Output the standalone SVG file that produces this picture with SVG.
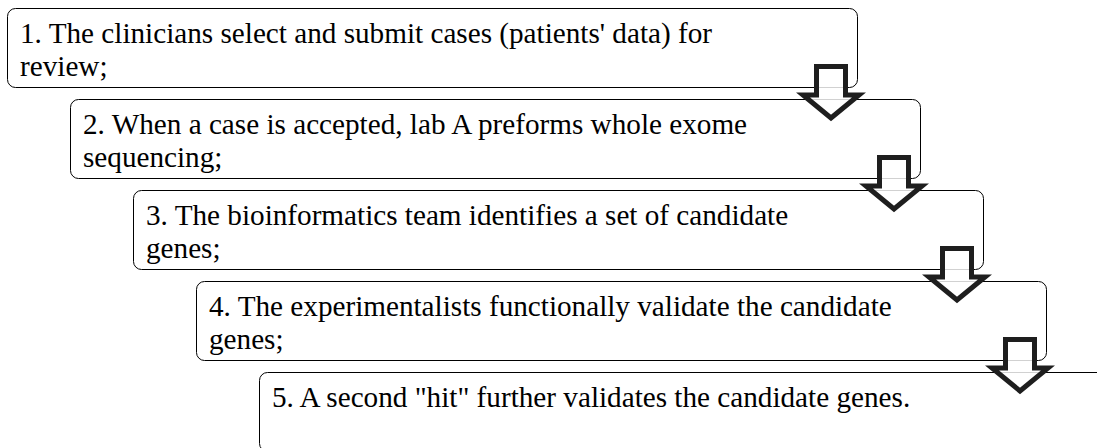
<svg xmlns="http://www.w3.org/2000/svg" width="1097" height="448" viewBox="0 0 1097 448">
  <style>
    .box { fill: #ffffff; stroke: #000000; stroke-width: 1; }
    .label { font-family: 'Liberation Serif', 'Times New Roman', serif; font-size: 29.2px; fill: #000000; }
    .step { fill: #ffffff; fill-opacity: 0.82; stroke: #1e1e1e; stroke-width: 5; stroke-linejoin: miter; }
  </style>
  <defs>
    <!-- block arrow pointing down, origin at the shaft's top centre -->
    <path id="downArrow" class="step" d="M-14.5,0 H14.5 V28.5 H28 L0,51.5 L-28,28.5 H-14.5 Z"/>
  </defs>
  <rect width="1097" height="448" fill="#ffffff"/>

  <g id="step1">
    <rect class="box" x="7.5" y="8.5" width="850" height="79" rx="8" ry="8"/>
    <text class="label" x="20" y="43">1. The clinicians select and submit cases (patients' data) for</text>
    <text class="label" x="20" y="76">review;</text>
  </g>
  <g id="step2">
    <rect class="box" x="70.5" y="99.5" width="850" height="79" rx="8" ry="8"/>
    <text class="label" x="83" y="134">2. When a case is accepted, lab A preforms whole exome</text>
    <text class="label" x="83" y="167">sequencing;</text>
  </g>
  <g id="step3">
    <rect class="box" x="133.5" y="190.5" width="850" height="79" rx="8" ry="8"/>
    <text class="label" x="146" y="225">3. The bioinformatics team identifies a set of candidate</text>
    <text class="label" x="146" y="258">genes;</text>
  </g>
  <g id="step4">
    <rect class="box" x="196.5" y="281.5" width="850" height="79" rx="8" ry="8"/>
    <text class="label" x="209" y="316">4. The experimentalists functionally validate the candidate</text>
    <text class="label" x="209" y="349">genes;</text>
  </g>
  <g id="step5">
    <rect class="box" x="259.5" y="372.5" width="850" height="79" rx="8" ry="8"/>
    <text class="label" x="272" y="407">5. A second "hit" further validates the candidate genes.</text>
  </g>

  <g id="connectors">
    <use href="#downArrow" x="831" y="66.5"/>
    <use href="#downArrow" x="894" y="157.5"/>
    <use href="#downArrow" x="957" y="248.5"/>
    <use href="#downArrow" x="1020" y="339.5"/>
  </g>
</svg>
